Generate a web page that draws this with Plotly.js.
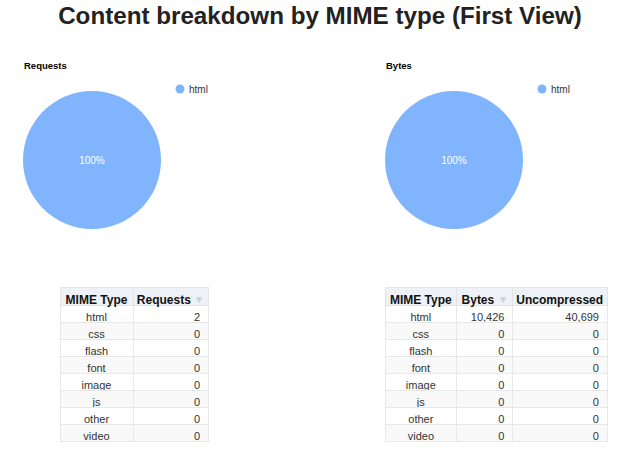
<!DOCTYPE html>
<html>
<head>
<meta charset="utf-8">
<script src="https://cdn.plot.ly/plotly-3.0.1.min.js"></script>
<style>html,body{margin:0;padding:0;background:#fff;}#chart{width:640px;height:459px;}</style>
</head>
<body>
<div id="chart"></div>
<script>
var mimeTypes = ['html', 'css', 'flash', 'font', 'image', 'js', 'other', 'video'];
var requests = [2, 0, 0, 0, 0, 0, 0, 0];
var bytes = [10426, 0, 0, 0, 0, 0, 0, 0];
var uncompressed = [40699, 0, 0, 0, 0, 0, 0, 0];
var reqHeaders = ['MIME Type', 'Requests'];
var bytesHeaders = ['MIME Type', 'Bytes', 'Uncompressed'];
var pieColors = ['#80b4fd', '#e27a5b', '#f6c452', '#61b865', '#a67ed6', '#f08ab6', '#7fd1d6', '#c0c0c0'];

var W = 640, H = 459;
function px(x) { return x / W; }
function py(y) { return 1 - y / H; }

var font = 'Arial, "Liberation Sans", sans-serif';
var rowFill = mimeTypes.map(function (_, i) { return i % 2 === 0 ? '#ffffff' : '#f9f9f9'; });
function hdr(t) { return t.replace(/ /g, '\u00a0'); }

var pieCommon = {
  type: 'pie', sort: false, direction: 'clockwise', rotation: 0,
  marker: { colors: pieColors, line: { width: 0 } },
  textinfo: 'percent', textposition: 'inside', insidetextorientation: 'horizontal',
  textfont: { color: '#ffffff', size: 10, family: font },
  showlegend: false, hoverinfo: 'label+value+percent'
};

var pieReq = Object.assign({}, pieCommon, {
  labels: mimeTypes, values: requests,
  domain: { x: [px(23), px(161)], y: [py(229), py(91)] }
});
var pieBytes = Object.assign({}, pieCommon, {
  labels: mimeTypes, values: bytes,
  domain: { x: [px(385), px(523)], y: [py(229), py(91)] }
});

var headerStyle = {
  fill: { color: '#eef1f6' },
  line: { color: '#e4e4e4', width: 1 },
  font: { family: font, size: 12, color: '#111', weight: 'bold' },
  height: 18
};
var cellStyle = {
  line: { color: '#e8e8e8', width: 1 },
  font: { family: font, size: 11, color: '#333' },
  height: 17
};

var tableTop = 287, tableBottom = 452;

var tableReq = {
  type: 'table',
  domain: { x: [px(60), px(208)], y: [py(tableBottom), py(tableTop)] },
  columnwidth: [73, 75],
  header: Object.assign({}, headerStyle, {
    values: [hdr(reqHeaders[0]), hdr(reqHeaders[1]) + '\u00a0\u00a0\u00a0\u00a0'],
    align: ['center', 'center']
  }),
  cells: Object.assign({}, cellStyle, {
    values: [mimeTypes, requests],
    format: ['', ',d'],
    align: ['center', 'right'],
    fill: { color: [rowFill, rowFill] }
  })
};

var tableBytes = {
  type: 'table',
  domain: { x: [px(385), px(608)], y: [py(tableBottom), py(tableTop)] },
  columnwidth: [72, 56, 95],
  header: Object.assign({}, headerStyle, {
    values: [hdr(bytesHeaders[0]), hdr(bytesHeaders[1]) + '\u00a0\u00a0\u00a0\u00a0', hdr(bytesHeaders[2])],
    align: ['center', 'center', 'center']
  }),
  cells: Object.assign({}, cellStyle, {
    values: [mimeTypes, bytes, uncompressed],
    format: ['', ',d', ',d'],
    align: ['center', 'right', 'right'],
    fill: { color: [rowFill, rowFill, rowFill] }
  })
};

var shapes = [];
var annotations = [
  { text: '<b>Requests</b>', x: px(22), y: py(66), xref: 'paper', yref: 'paper', xanchor: 'left', yanchor: 'middle', showarrow: false, font: { family: font, size: 9.5, color: '#000' } },
  { text: '<b>Bytes</b>', x: px(384), y: py(66), xref: 'paper', yref: 'paper', xanchor: 'left', yanchor: 'middle', showarrow: false, font: { family: font, size: 9.5, color: '#000' } },
  // sort indicators in the headers
  { text: '▼', x: px(199), y: py(299), xref: 'paper', yref: 'paper', xanchor: 'center', yanchor: 'middle', showarrow: false, font: { family: font, size: 10, color: '#cdd1d8' } },
  { text: '▼', x: px(503), y: py(299), xref: 'paper', yref: 'paper', xanchor: 'center', yanchor: 'middle', showarrow: false, font: { family: font, size: 10, color: '#cdd1d8' } }
];
function addLegend(values, x0) {
  var k = 0;
  mimeTypes.forEach(function (m, i) {
    if (values[i] > 0) {
      var cy = 89 + k * 16;
      shapes.push({ type: 'circle', xref: 'paper', yref: 'paper', x0: px(x0 - 4.5), x1: px(x0 + 4.5), y0: py(cy + 4.5), y1: py(cy - 4.5), fillcolor: pieColors[i], line: { width: 0 } });
      annotations.push({ text: m, x: px(x0 + 7), y: py(cy), xref: 'paper', yref: 'paper', xanchor: 'left', yanchor: 'middle', showarrow: false, font: { family: font, size: 10, color: '#333' } });
      k++;
    }
  });
}
addLegend(requests, 180);
addLegend(bytes, 542);

var layout = {
  width: W, height: H,
  margin: { l: 0, r: 0, t: 0, b: 0 },
  paper_bgcolor: '#ffffff',
  title: { text: '<b>Content breakdown by MIME type (First View)</b>', x: 0.5, xanchor: 'center', y: 1 - 16 / H, yanchor: 'middle', yref: 'container', font: { family: font, size: 24.2, color: '#222' } },
  showlegend: false,
  shapes: shapes,
  annotations: annotations
};

Plotly.newPlot('chart', [pieReq, pieBytes, tableReq, tableBytes], layout, { displayModeBar: false, staticPlot: true });
</script>
</body>
</html>
